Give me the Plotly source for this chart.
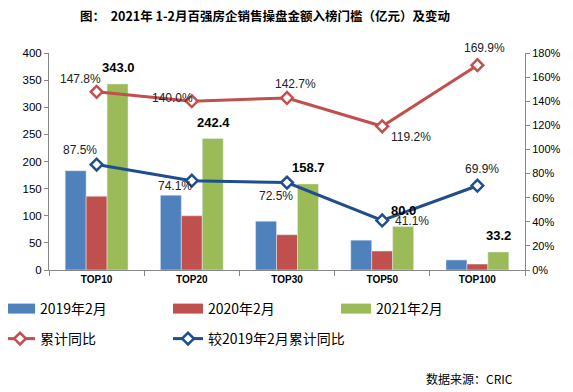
import plotly.graph_objects as go

categories = ["TOP10", "TOP20", "TOP30", "TOP50", "TOP100"]
v2019 = [183, 138, 90, 55, 18.5]
v2020 = [136, 100, 65, 35, 11]
v2021 = [343.0, 242.4, 158.7, 80.0, 33.2]
yoy = [147.8, 140.0, 142.7, 119.2, 169.9]
vs2019 = [87.5, 74.1, 72.5, 41.1, 69.9]

# label offsets (px) relative to the points
yoy_off = [(-16, 13), (-19, 3), (8, 14), (29, -11), (7, 17)]
vs_off = [(-17, 15), (-17, -5), (-11, -13), (30, -1), (5, 17)]

C_BLUE = "#4F81BD"
C_RED = "#C0504D"
C_GREEN = "#9BBB59"
C_NAVY = "#1F4E8C"
FONT = "Liberation Sans, Arial, sans-serif"
CJK = "Noto Sans CJK SC, sans-serif"

# page is offset by the 8px body margin: figure coords = reference - 8
ML, MT, PW, PH = 41, 45, 476, 217
W, H = 573, 392

def px(x):  # figure x px -> paper
    return (x - ML) / PW

def py(y):  # figure y px -> paper
    return (MT + PH - y) / PH

row1_top, row2_top = 285, 315
col_left = [-8, 160, 328]
legend_slots = [("legend", col_left[0], row1_top), ("legend2", col_left[1], row1_top),
                ("legend3", col_left[2], row1_top), ("legend4", col_left[0], row2_top),
                ("legend5", col_left[1], row2_top)]

fig = go.Figure()
bar_series = [("2019年2月", v2019, C_BLUE), ("2020年2月", v2020, C_RED), ("2021年2月", v2021, C_GREEN)]
for name, vals, col in bar_series:
    fig.add_trace(go.Bar(x=categories, y=vals, name=name, marker_color=col,
                         showlegend=False, legendgroup=name))
for (name, vals, col), (lg, _, _) in zip(bar_series, legend_slots[:3]):
    fig.add_trace(go.Scatter(x=[None], y=[None], name=name, mode="lines",
                             line=dict(color=col, width=10), legend=lg, legendgroup=name))

for (name, vals, col), (lg, _, _) in zip([("累计同比", yoy, C_RED), ("较2019年2月累计同比", vs2019, C_NAVY)],
                                         legend_slots[3:]):
    fig.add_trace(go.Scatter(
        x=categories, y=vals, name=name, yaxis="y2", mode="lines+markers",
        line=dict(color=col, width=3),
        marker=dict(symbol="diamond", size=9, color="white", line=dict(color=col, width=2.5)),
        legend=lg, cliponaxis=False))

for vals, offs in [(yoy, yoy_off), (vs2019, vs_off)]:
    for c, v, (dx, dy) in zip(categories, vals, offs):
        fig.add_annotation(x=c, y=v, yref="y2", text=f"{v:.1f}%", showarrow=False,
                           xshift=dx, yshift=dy, font=dict(size=12, color="#222", family=FONT))

for c, v in zip(categories, v2021):
    fig.add_annotation(x=c, y=v, text=f"<b>{v:.1f}</b>", showarrow=False, xshift=21.5, yshift=16,
                       font=dict(size=13, color="#000", family=FONT))

fig.add_annotation(xref="paper", yref="paper", x=px(507), y=py(370),
                   xanchor="right", yanchor="middle",
                   text="数据来源：CRIC", showarrow=False, font=dict(size=12, family=CJK, color="#000"))

legends = {}
for lg, lx, ly in legend_slots:
    legends[lg] = dict(orientation="h", x=px(lx), xanchor="left", y=py(ly), yanchor="top",
                       itemwidth=30, font=dict(size=14, family=CJK, color="#000"),
                       bgcolor="rgba(0,0,0,0)")

fig.update_layout(
    width=W, height=H, margin=dict(l=ML, r=W - ML - PW, t=MT, b=H - MT - PH, autoexpand=False),
    plot_bgcolor="white", paper_bgcolor="white",
    title=dict(text="<b>图：  2021年 1-2月百强房企销售操盘金额入榜门槛（亿元）及变动</b>",
               x=257 / W, xanchor="center", xref="container",
               y=1 - 9 / H, yanchor="middle", yref="container",
               font=dict(size=12.5, family=CJK, color="#000")),
    barmode="group", bargap=0.34, bargroupgap=0,
    xaxis=dict(showline=True, linecolor="#888", ticks="outside", tickson="boundaries",
               tickcolor="#888", ticklen=5,
               tickfont=dict(size=10, family=FONT, color="#000", weight="bold")),
    yaxis=dict(range=[0, 400], dtick=50, showgrid=False, showline=True, linecolor="#888",
               ticks="outside", tickcolor="#888", ticklen=4,
               tickfont=dict(size=11.5, family=FONT, color="#000"), zeroline=False),
    yaxis2=dict(range=[0, 180], dtick=20, overlaying="y", side="right", showgrid=False, showline=True,
                linecolor="#888", ticks="outside", tickcolor="#888", ticklen=4, ticksuffix="%",
                tickfont=dict(size=11, family=FONT, color="#000"), zeroline=False),
    showlegend=True,
    **legends,
)
fig.write_html("out.html")
